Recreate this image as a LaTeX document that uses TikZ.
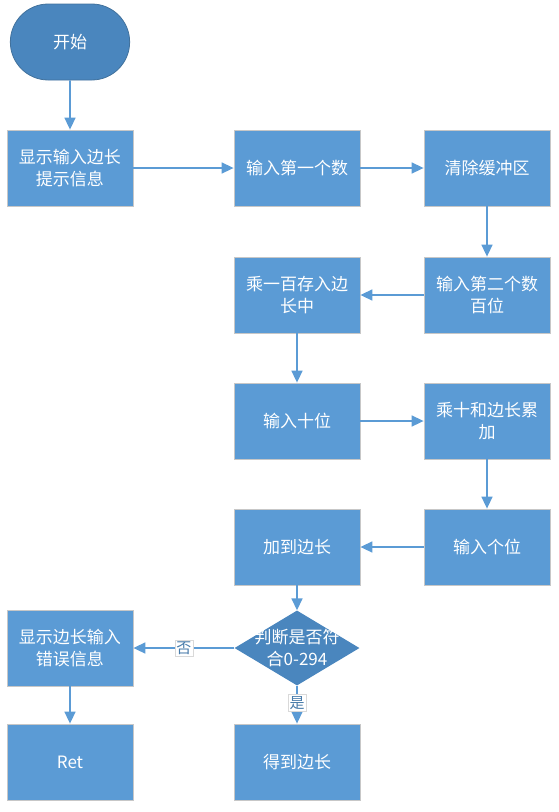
\documentclass[tikz,border=0pt]{standalone}
\usepackage{fontspec}
\newfontfamily\cjk{Noto Sans CJK SC}
\usepackage{tikz}
\usetikzlibrary{arrows.meta,shapes.geometric,shapes.misc}

\definecolor{boxblue}{HTML}{5B9BD5}
\definecolor{darkblue}{HTML}{4A86BE}
\definecolor{edgeblue}{HTML}{41719C}

\begin{document}
\begin{tikzpicture}[
  x=1pt, y=-1pt,
  font=\cjk\fontsize{17}{22}\selectfont,
  >={Triangle[length=12pt, width=11pt]},
  box/.style={draw=black!22, line width=0.8pt, fill=boxblue, text=white,
              align=center, minimum width=126pt, minimum height=76pt, inner sep=2pt},
  term/.style={rounded rectangle, draw=edgeblue, line width=0.8pt, fill=darkblue,
               text=white, minimum width=126pt, minimum height=76pt},
  dec/.style={diamond, aspect=1.67, draw=none, fill=darkblue, text=white,
              align=center, inner sep=-8pt, minimum width=125pt, minimum height=75pt},
  arr/.style={->, line width=1.6pt, draw=boxblue},
  lbl/.style={fill=white, draw=black!15, line width=0.5pt, text=boxblue!80!black,
              font=\cjk\fontsize{15}{17}\selectfont, inner sep=1.5pt},
]
\useasboundingbox (0,0) rectangle (559,812);
\node[term] (start) at (70,42) {开始};
\node[box] (hint) at (70,168) {显示输入边长\\提示信息};
\node[box] (first) at (297,168) {输入第一个数};
\node[box] (flush) at (487,168) {清除缓冲区};
\node[box] (hund) at (487,295) {输入第二个数\\百位};
\node[box] (mulh) at (297,295) {乘一百存入边\\长中};
\node[box] (tens) at (297,421) {输入十位};
\node[box] (mult) at (487,421) {乘十和边长累\\加};
\node[box] (ones) at (487,547) {输入个位};
\node[box] (add) at (297,547) {加到边长};
\node[dec] (check) at (297,648) {判断是否符\\合0-294};
\node[box] (err) at (70,648) {显示边长输入\\错误信息};
\node[box] (ret) at (70,762) {Ret};
\node[box] (done) at (297,762) {得到边长};
\draw[arr] (start) -- (hint);
\draw[arr] (hint) -- (first);
\draw[arr] (first) -- (flush);
\draw[arr] (flush) -- (hund);
\draw[arr] (hund) -- (mulh);
\draw[arr] (mulh) -- (tens);
\draw[arr] (tens) -- (mult);
\draw[arr] (mult) -- (ones);
\draw[arr] (ones) -- (add);
\draw[arr] (add) -- (check);
\draw[arr] (check) -- node[lbl] {否} (err);
\draw[arr] (check) -- node[lbl, pos=0.45] {是} (done);
\draw[arr] (err) -- (ret);
\end{tikzpicture}
\end{document}
